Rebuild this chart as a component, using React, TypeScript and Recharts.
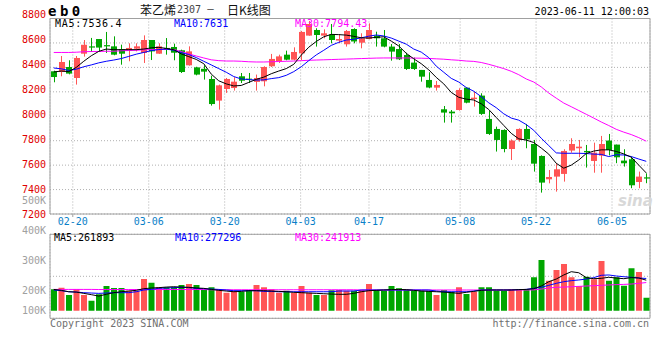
import React from 'react';
import { ComposedChart, Bar, Line, XAxis, YAxis, CartesianGrid, ReferenceArea, Cell } from 'recharts';

const DATES = [
  '02-14', '02-15', '02-16', '02-17',
  '02-20', '02-21', '02-22', '02-23', '02-24',
  '02-27', '02-28', '03-01', '03-02', '03-03',
  '03-06', '03-07', '03-08', '03-09', '03-10',
  '03-13', '03-14', '03-15', '03-16', '03-17',
  '03-20', '03-21', '03-22', '03-23', '03-24',
  '03-27', '03-28', '03-29', '03-30', '03-31',
  '04-03', '04-04', '04-06', '04-07',
  '04-10', '04-11', '04-12', '04-13', '04-14',
  '04-17', '04-18', '04-19', '04-20', '04-21',
  '04-24', '04-25', '04-26', '04-27', '04-28',
  '05-04', '05-05',
  '05-08', '05-09', '05-10', '05-11', '05-12',
  '05-15', '05-16', '05-17', '05-18', '05-19',
  '05-22', '05-23', '05-24', '05-25', '05-26',
  '05-29', '05-30', '05-31', '06-01', '06-02',
  '06-05', '06-06', '06-07', '06-08', '06-09',
];

const OPEN = [
  8368, 8362, 8403, 8313, 8512, 8572, 8632, 8582, 8572, 8548,
  8540, 8553, 8518, 8624, 8512, 8559, 8567, 8540, 8417, 8400,
  8388, 8305, 8128, 8223, 8231, 8327, 8308, 8281, 8286, 8409,
  8450, 8504, 8463, 8515, 8660, 8706, 8660, 8670, 8619, 8589,
  8714, 8602, 8632, 8660, 8638, 8570, 8550, 8501, 8439, 8379,
  8297, 8234, 8057, 8038, 8051, 8234, 8141, 8169, 7978, 7896,
  7888, 7732, 7806, 7896, 7773, 7675, 7484, 7506, 7528, 7719,
  7738, 7716, 7634, 7678, 7801, 7768, 7637, 7648, 7462, 7500,
];
const HIGH = [
  8373, 8493, 8458, 8493, 8624, 8641, 8632, 8690, 8654, 8586,
  8597, 8597, 8662, 8624, 8597, 8640, 8594, 8545, 8572, 8405,
  8417, 8332, 8259, 8313, 8319, 8354, 8354, 8341, 8409, 8510,
  8504, 8537, 8564, 8698, 8780, 8720, 8711, 8755, 8670, 8706,
  8720, 8679, 8760, 8692, 8706, 8591, 8591, 8520, 8480, 8379,
  8360, 8289, 8084, 8051, 8229, 8237, 8201, 8188, 8043, 7915,
  7893, 7811, 7901, 7937, 7806, 7680, 7560, 7615, 7730, 7820,
  7806, 7765, 7784, 7839, 7855, 7768, 7730, 7670, 7547, 7533,
];
const LOW = [
  8278, 8327, 8343, 8259, 8488, 8526, 8531, 8518, 8499, 8422,
  8450, 8531, 8436, 8460, 8510, 8504, 8458, 8354, 8414, 8335,
  8300, 8087, 8054, 8191, 8210, 8272, 8272, 8210, 8245, 8403,
  8436, 8458, 8458, 8460, 8659, 8570, 8638, 8597, 8597, 8570,
  8597, 8556, 8630, 8570, 8564, 8455, 8460, 8379, 8379, 8283,
  8229, 8210, 7948, 7948, 8046, 8106, 8079, 8011, 7847, 7711,
  7705, 7642, 7792, 7738, 7547, 7375, 7451, 7383, 7465, 7702,
  7664, 7580, 7538, 7538, 7680, 7616, 7588, 7411, 7411, 7452,
];
const CLOSE = [
  8321, 8444, 8349, 8477, 8585, 8562, 8562, 8572, 8504, 8512,
  8559, 8572, 8624, 8531, 8572, 8545, 8520, 8362, 8531, 8341,
  8365, 8100, 8253, 8305, 8283, 8291, 8300, 8313, 8403, 8469,
  8490, 8463, 8526, 8690, 8755, 8665, 8679, 8624, 8632, 8698,
  8612, 8638, 8706, 8638, 8570, 8529, 8466, 8387, 8387, 8324,
  8235, 8256, 8030, 8024, 8215, 8111, 8152, 8019, 7855, 7806,
  7732, 7801, 7896, 7811, 7612, 7457, 7503, 7566, 7716, 7773,
  7751, 7705, 7702, 7773, 7724, 7664, 7615, 7435, 7506, 7490,
];

const MA5 = [
  8362, 8370, 8365, 8400, 8450, 8495, 8531, 8550, 8545, 8545,
  8545, 8545, 8550, 8560, 8564, 8555, 8545, 8510, 8488, 8465,
  8430, 8345, 8290, 8265, 8248, 8252, 8277, 8302, 8320, 8348,
  8370, 8390, 8425, 8500, 8565, 8612, 8650, 8670, 8668, 8664,
  8654, 8642, 8640, 8646, 8650, 8615, 8575, 8515, 8470, 8430,
  8380, 8318, 8265, 8195, 8155, 8140, 8133, 8102, 8055, 7990,
  7925, 7860, 7815, 7805, 7785, 7740, 7690, 7615, 7575, 7600,
  7642, 7695, 7715, 7725, 7725, 7712, 7692, 7665, 7600, 7536,
];
const MA10 = [
  8395, 8388, 8375, 8385, 8405, 8420, 8437, 8450, 8460, 8472,
  8490, 8508, 8522, 8537, 8546, 8550, 8540, 8520, 8505, 8480,
  8450, 8420, 8390, 8360, 8325, 8305, 8300, 8296, 8298, 8308,
  8316, 8335, 8365, 8405, 8455, 8502, 8540, 8580, 8605, 8624,
  8630, 8642, 8655, 8665, 8657, 8640, 8615, 8590, 8550, 8525,
  8480, 8410, 8360, 8310, 8280, 8235, 8205, 8160, 8110, 8070,
  8020, 7985, 7968, 7932, 7885, 7820, 7760, 7700, 7697, 7697,
  7697, 7695, 7690, 7688, 7670, 7685, 7683, 7670, 7650, 7631,
];
const MA30 = [
  8522, 8522, 8522, 8524, 8528, 8530, 8530, 8532, 8532, 8536,
  8538, 8540, 8544, 8546, 8546, 8548, 8546, 8530, 8510, 8493,
  8477, 8462, 8455, 8452, 8452, 8450, 8446, 8444, 8444, 8446,
  8448, 8450, 8452, 8455, 8458, 8460, 8462, 8464, 8466, 8468,
  8470, 8472, 8474, 8476, 8477, 8477, 8477, 8477, 8476, 8475,
  8473, 8470, 8467, 8462, 8458, 8452, 8449, 8440, 8425, 8408,
  8390, 8368, 8340, 8305, 8280, 8240, 8190, 8148, 8108, 8078,
  8047, 8016, 7985, 7953, 7924, 7893, 7870, 7850, 7825, 7796,
];

const VOLUME = [
  184000, 198000, 135000, 184000, 135000, 86000, 141000, 212000, 195000, 195000,
  172000, 172000, 272000, 240000, 201000, 201000, 201000, 221000, 229000, 221000,
  178000, 201000, 184000, 155000, 172000, 163000, 178000, 221000, 201000, 184000,
  155000, 172000, 155000, 212000, 155000, 135000, 135000, 175000, 178000, 172000,
  172000, 178000, 229000, 178000, 172000, 212000, 192000, 178000, 172000, 172000,
  172000, 135000, 178000, 163000, 201000, 143000, 163000, 201000, 201000, 172000,
  172000, 184000, 184000, 184000, 287000, 435000, 258000, 349000, 401000, 287000,
  212000, 292000, 270000, 427000, 258000, 287000, 215000, 364000, 332000, 112000,
];
const VOL_MA5 = [
  183000, 175000, 163000, 160000, 149000, 138000, 126000, 141000, 155000, 163000,
  169000, 175000, 189000, 195000, 198000, 203000, 206000, 203000, 201000, 195000,
  192000, 183000, 175000, 169000, 163000, 166000, 172000, 172000, 172000, 169000,
  166000, 163000, 158000, 155000, 152000, 149000, 146000, 143000, 141000, 141000,
  149000, 163000, 172000, 175000, 178000, 181000, 183000, 181000, 175000, 169000,
  166000, 163000, 160000, 155000, 149000, 158000, 166000, 175000, 178000, 178000,
  178000, 178000, 181000, 183000, 189000, 212000, 249000, 272000, 307000, 335000,
  326000, 284000, 275000, 278000, 287000, 281000, 275000, 284000, 281000, 262000,
];
const VOL_MA10 = [
  178000, 172000, 163000, 160000, 155000, 152000, 149000, 152000, 155000, 155000,
  155000, 163000, 178000, 183000, 192000, 195000, 198000, 201000, 198000, 192000,
  189000, 186000, 183000, 178000, 172000, 172000, 172000, 172000, 166000, 166000,
  163000, 163000, 163000, 163000, 163000, 163000, 163000, 163000, 169000, 169000,
  169000, 178000, 178000, 178000, 178000, 178000, 178000, 178000, 178000, 178000,
  178000, 169000, 163000, 163000, 163000, 163000, 169000, 178000, 178000, 178000,
  178000, 178000, 181000, 183000, 192000, 201000, 218000, 235000, 249000, 258000,
  264000, 272000, 284000, 304000, 307000, 298000, 292000, 287000, 281000, 277000,
];
const VOL_MA30 = [
  183000, 183000, 183000, 183000, 183000, 183000, 182000, 182000, 182000, 182000,
  182000, 182000, 182000, 182000, 182000, 182000, 182000, 182000, 182000, 182000,
  182000, 180000, 180000, 180000, 180000, 180000, 180000, 180000, 180000, 180000,
  180000, 180000, 180000, 180000, 180000, 180000, 180000, 180000, 180000, 180000,
  180000, 178000, 178000, 178000, 178000, 178000, 178000, 178000, 178000, 178000,
  178000, 178000, 178000, 178000, 178000, 178000, 178000, 178000, 178000, 178000,
  178000, 178000, 178000, 178000, 179000, 186000, 195000, 201000, 203000, 206000,
  209000, 212000, 215000, 218000, 221000, 224000, 226000, 229000, 235000, 242000,
];

const PRICE_TICKS = [7200, 7400, 7600, 7800, 8000, 8200, 8400, 8600, 8800];
const DATE_TICK_LABELS = ['02-20', '03-06', '03-20', '04-03', '04-17', '05-08', '05-22', '06-05'];
const VOL_TICKS = [100000, 200000, 300000, 400000, 500000];

const SYMBOL = 'eb0';
const TITLE_NAME = '苯乙烯';
const TITLE_CODE = '2307';
const TITLE_SEP = '－';
const TITLE_KIND = '日K线图';
const TIMESTAMP = '2023-06-11 12:00:03';
const PRICE_MA_LABELS = ['MA5:7536.4', 'MA10:7631', 'MA30:7794.43'];
const VOL_MA_LABELS = ['MA5:261893', 'MA10:277296', 'MA30:241913'];
const COPYRIGHT = 'Copyright 2023 SINA.COM';
const URL_TEXT = 'http://finance.sina.com.cn';

// axis scale settings (styling of the two panels)
const PRICE_DOMAIN = [7200, 8800];
const VOL_DOMAIN = [-65000, 656000];
const VOL_LABEL_DOMAIN = [105700, 385700];
const DATE_DOMAIN = [1, 80];

const RED = '#ff5555';
const GREEN = '#00a600';
const FRAME = '#a0a0a0';
const GRID = '#b0b0b0';
const MONO = "'DejaVu Sans Mono', monospace";
const CJK = "'Noto Sans CJK SC', sans-serif";

const rows = DATES.map((d, i) => ({
  date: d,
  idx: i,
  open: OPEN[i],
  high: HIGH[i],
  low: LOW[i],
  close: CLOSE[i],
  ma5: MA5[i],
  ma10: MA10[i],
  ma30: MA30[i],
  vol: VOLUME[i],
  vma5: VOL_MA5[i],
  vma10: VOL_MA10[i],
  vma30: VOL_MA30[i],
}));

const DATE_TICK_IDX = DATE_TICK_LABELS.map((l) => DATES.indexOf(l));

const Candle = (props: any) => {
  const { x, y, width, height, payload } = props;
  if (!payload) return null;
  const { open, close, high, low } = payload;
  const color = close >= open ? RED : GREEN;
  const top = Math.min(y, y + height);
  const h = Math.abs(height);
  const span = high - low;
  const k = span > 0 ? h / span : 0;
  const yO = top + (high - open) * k;
  const yC = top + (high - close) * k;
  const bTop = Math.min(yO, yC);
  const bH = Math.max(Math.abs(yO - yC), 1);
  const cx = Math.floor(x + width / 2) + 0.5;
  const bx = Math.round(x);
  return (
    <g>
      <line x1={cx} x2={cx} y1={top} y2={top + h} stroke={color} strokeWidth={1} />
      <rect x={bx} y={bTop} width={Math.round(width)} height={bH} fill={color} />
    </g>
  );
};

const PriceTick = (props: any) => {
  const { x, y, payload } = props;
  return (
    <text x={x} y={y} dy={3.5 - (payload.value - 7200) / 400} textAnchor="end" fill="#e00000" fontSize={10} fontFamily={MONO}>
      {payload.value}
    </text>
  );
};

const VolTick = (props: any) => {
  const { x, y, payload } = props;
  const v = payload.value;
  return (
    <text x={x} y={y} dy={3.5 + (v === 100000 ? -10 : 0)} textAnchor="end" fill="#a0a0a0" fontSize={10} fontFamily={MONO}>
      {`${v / 1000}K`}
    </text>
  );
};

const DateTick = (props: any) => {
  const { x, y, payload } = props;
  return (
    <text x={x} y={y} dy={7} textAnchor="middle" fill="#0a7fc8" fontSize={10} fontFamily={MONO}>
      {DATES[payload.value]}
    </text>
  );
};

const txt = (style: React.CSSProperties): React.CSSProperties => ({
  position: 'absolute',
  fontFamily: MONO,
  fontSize: 10,
  lineHeight: '10px',
  whiteSpace: 'pre',
  ...style,
});

export default function App() {
  return (
    <div style={{ position: 'absolute', left: 0, top: 0, width: 660, height: 360, background: '#fff', overflow: 'hidden' }}>
      <div style={{ position: 'absolute', left: 0, top: 0 }}>
        <ComposedChart width={660} height={240} data={rows} margin={{ top: 18.5, right: 10, bottom: 6, left: 0 }}>
          <XAxis
            xAxisId="dates"
            type="number"
            dataKey="idx"
            domain={DATE_DOMAIN}
            allowDataOverflow
            ticks={DATE_TICK_IDX}
            interval={0}
            height={20}
            tickSize={3}
            tickMargin={1}
            axisLine={false}
            tickLine={{ stroke: FRAME }}
            tick={<DateTick />}
          />
          <XAxis xAxisId="cat" dataKey="date" hide height={0} />
          <YAxis
            yAxisId="price"
            type="number"
            domain={PRICE_DOMAIN}
            allowDataOverflow
            ticks={PRICE_TICKS}
            interval={0}
            width={50}
            tickSize={0}
            tickMargin={4}
            axisLine={false}
            tickLine={false}
            tick={<PriceTick />}
          />
          <CartesianGrid xAxisId="dates" yAxisId="price" stroke={GRID} strokeDasharray="1 2" />
          <ReferenceArea xAxisId="dates" yAxisId="price" x1={DATE_DOMAIN[0]} x2={DATE_DOMAIN[1]} y1={PRICE_DOMAIN[0]} y2={PRICE_DOMAIN[1]} fill="none" fillOpacity={0} stroke={FRAME} strokeWidth={1} />
          <Bar xAxisId="cat" yAxisId="price" dataKey={(d: any) => [d.low, d.high]} barSize={6} shape={<Candle />} isAnimationActive={false} />
          <Line xAxisId="cat" yAxisId="price" type="linear" dataKey="ma30" stroke="#ff00ff" strokeWidth={1} dot={false} activeDot={false} isAnimationActive={false} />
          <Line xAxisId="cat" yAxisId="price" type="linear" dataKey="ma10" stroke="#0000ff" strokeWidth={1} dot={false} activeDot={false} isAnimationActive={false} />
          <Line xAxisId="cat" yAxisId="price" type="linear" dataKey="ma5" stroke="#000000" strokeWidth={1} dot={false} activeDot={false} isAnimationActive={false} />
        </ComposedChart>
      </div>

      <div style={{ position: 'absolute', left: 0, top: 190 }}>
        <ComposedChart width={660} height={145} data={rows} margin={{ top: 44.3, right: 10, bottom: 11.7, left: 0 }}>
          <XAxis
            xAxisId="dates"
            type="number"
            dataKey="idx"
            domain={DATE_DOMAIN}
            allowDataOverflow
            ticks={DATE_TICK_IDX}
            interval={0}
            height={5}
            tickSize={3}
            axisLine={false}
            tickLine={{ stroke: FRAME }}
            tick={false}
          />
          <XAxis xAxisId="cat" dataKey="date" hide height={0} />
          <YAxis
            yAxisId="volLabel"
            type="number"
            domain={VOL_LABEL_DOMAIN}
            allowDataOverflow
            ticks={VOL_TICKS}
            interval={0}
            width={50}
            tickSize={0}
            tickMargin={4}
            axisLine={false}
            tickLine={false}
            tick={<VolTick />}
          />
          <YAxis yAxisId="vol" type="number" domain={VOL_DOMAIN} allowDataOverflow hide width={0} />
          <YAxis yAxisId="volGrid" type="number" domain={[0, 4]} ticks={[0, 1, 2, 3, 4]} allowDataOverflow hide width={0} />
          <CartesianGrid xAxisId="dates" yAxisId="volGrid" stroke={GRID} strokeDasharray="1 2" />
          <ReferenceArea xAxisId="dates" yAxisId="volGrid" x1={DATE_DOMAIN[0]} x2={DATE_DOMAIN[1]} y1={0} y2={4} fill="none" fillOpacity={0} stroke={FRAME} strokeWidth={1} />
          <Bar xAxisId="cat" yAxisId="vol" dataKey="vol" barSize={6} isAnimationActive={false}>
            {rows.map((r, i) => (
              <Cell key={i} fill={r.close >= r.open ? RED : GREEN} />
            ))}
          </Bar>
          <Line xAxisId="cat" yAxisId="vol" type="linear" dataKey="vma30" stroke="#ff00ff" strokeWidth={1} dot={false} activeDot={false} isAnimationActive={false} />
          <Line xAxisId="cat" yAxisId="vol" type="linear" dataKey="vma10" stroke="#0000ff" strokeWidth={1} dot={false} activeDot={false} isAnimationActive={false} />
          <Line xAxisId="cat" yAxisId="vol" type="linear" dataKey="vma5" stroke="#000000" strokeWidth={1} dot={false} activeDot={false} isAnimationActive={false} />
        </ComposedChart>
      </div>

      <div style={txt({ left: 48, top: 4, fontSize: 14, lineHeight: '14px', fontWeight: 'bold', letterSpacing: 3.5, color: '#000' })}>{SYMBOL}</div>
      <div style={txt({ left: 140, top: 3, fontSize: 12, lineHeight: '14px', fontFamily: CJK, color: '#111' })}>{TITLE_NAME}</div>
      <div style={txt({ left: 177, top: 5, color: '#444' })}>{TITLE_CODE}</div>
      <div style={txt({ left: 206, top: 3, fontSize: 9, lineHeight: '14px', fontFamily: CJK, color: '#111' })}>{TITLE_SEP}</div>
      <div style={txt({ left: 227, top: 3, fontSize: 12, lineHeight: '14px', fontFamily: CJK, color: '#111' })}>{TITLE_KIND}</div>
      <div style={txt({ right: 11, top: 6.5, color: '#000' })}>{TIMESTAMP}</div>

      <div style={txt({ left: 55, top: 18.5, color: '#000', letterSpacing: 0.7 })}>{PRICE_MA_LABELS[0]}</div>
      <div style={txt({ left: 174, top: 18.5, color: '#0000ff' })}>{PRICE_MA_LABELS[1]}</div>
      <div style={txt({ left: 295, top: 18.5, color: '#ff00ff' })}>{PRICE_MA_LABELS[2]}</div>

      <div style={txt({ left: 54, top: 233.2, color: '#000' })}>{VOL_MA_LABELS[0]}</div>
      <div style={txt({ left: 175, top: 233.2, color: '#0000ff' })}>{VOL_MA_LABELS[1]}</div>
      <div style={txt({ left: 295, top: 233.2, color: '#ff00ff' })}>{VOL_MA_LABELS[2]}</div>

      <div style={txt({ left: 50, top: 318.5, color: '#707070' })}>{COPYRIGHT}</div>
      <div style={txt({ right: 11, top: 318.5, color: '#707070' })}>{URL_TEXT}</div>
      <div style={txt({ left: 618, top: 194, fontSize: 15, lineHeight: '15px', fontFamily: "'DejaVu Sans', sans-serif", fontWeight: 'bold', fontStyle: 'italic', color: '#d8d8d8' })}>sina</div>
    </div>
  );
}
